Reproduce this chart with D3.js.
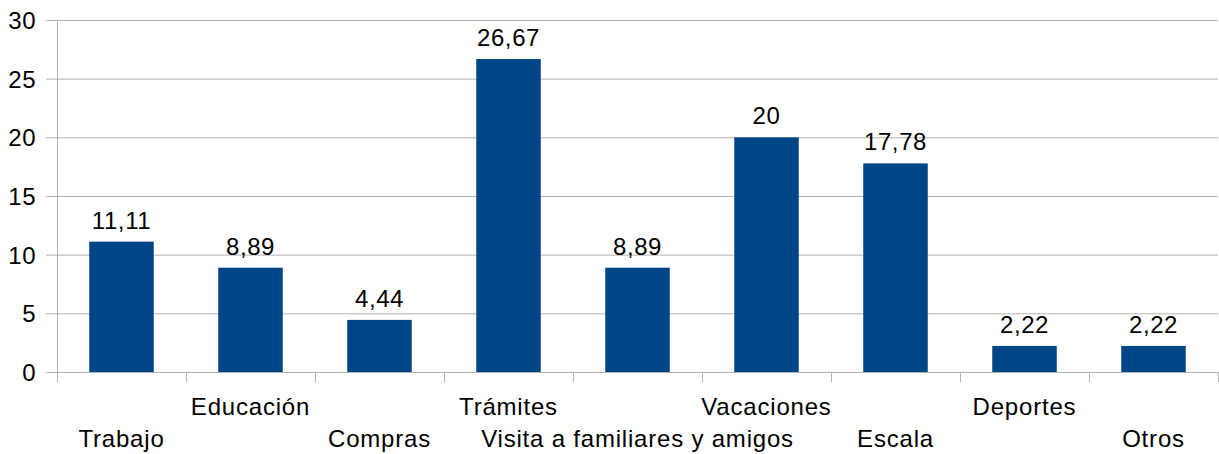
<!DOCTYPE html>
<html>
<head>
<meta charset="utf-8">
<script src="https://cdn.jsdelivr.net/npm/d3@7"></script>
<style>
  body { margin: 0; background: #fff; }
  text { font-family: "Liberation Sans", Arial, sans-serif; fill: #000; }
</style>
</head>
<body>
<svg id="chart" width="1219" height="454"></svg>
<script>
// data
const categories = ["Trabajo", "Educación", "Compras", "Trámites", "Visita a familiares y amigos",
  "Vacaciones", "Escala", "Deportes", "Otros"];
const values = [11.11, 8.89, 4.44, 26.67, 8.89, 20, 17.78, 2.22, 2.22];
const yTicks = [0, 5, 10, 15, 20, 25, 30];

const width = 1219, height = 454;
const margin = { top: 20, right: 1, bottom: 82, left: 57 };
const svg = d3.select("#chart");

const x = d3.scaleBand()
  .domain(categories)
  .range([margin.left, width - margin.right])
  .paddingInner(0.5)
  .paddingOuter(0.25);

const y = d3.scaleLinear()
  .domain([0, 30])
  .range([height - margin.bottom, margin.top]);

// gridlines
svg.append("g").selectAll("line")
  .data(yTicks)
  .join("line")
  .attr("x1", margin.left - 11)
  .attr("x2", width - margin.right)
  .attr("y1", d => y(d) + 0.5)
  .attr("y2", d => y(d) + 0.5)
  .attr("stroke", "#b3b3b3")
  .attr("stroke-width", 1);

// y labels
svg.append("g").selectAll("text")
  .data(yTicks)
  .join("text")
  .attr("x", margin.left - 21)
  .attr("y", d => y(d) + 9)
  .attr("text-anchor", "end")
  .attr("font-size", 24)
  .attr("letter-spacing", 0.5)
  .text(d => d);

// y axis line
svg.append("line")
  .attr("x1", margin.left + 0.5).attr("x2", margin.left + 0.5)
  .attr("y1", margin.top).attr("y2", y(0) + 10)
  .attr("stroke", "#b3b3b3");

// category ticks
const step = x.step();
const tickPos = d3.range(categories.length + 1).map(i => margin.left + i * step);
svg.append("g").selectAll("line")
  .data(tickPos.slice(1))
  .join("line")
  .attr("x1", d => Math.round(d) + 0.5).attr("x2", d => Math.round(d) + 0.5)
  .attr("y1", y(0)).attr("y2", y(0) + 10)
  .attr("stroke", "#b3b3b3");

// bars
svg.append("g").selectAll("rect")
  .data(values)
  .join("rect")
  .attr("x", (d, i) => x(categories[i]))
  .attr("width", x.bandwidth())
  .attr("y", d => y(d))
  .attr("height", d => y(0) - y(d))
  .attr("fill", "#004586");

// value labels
const fmt = d => d3.format(",.2~f")(d).replace(".", ",");
svg.append("g").selectAll("text")
  .data(values)
  .join("text")
  .attr("x", (d, i) => x(categories[i]) + x.bandwidth() / 2)
  .attr("y", d => y(d) - 13)
  .attr("text-anchor", "middle")
  .attr("font-size", 24)
  .attr("letter-spacing", 0.6)
  .text(fmt);

// category labels, staggered
svg.append("g").selectAll("text")
  .data(categories)
  .join("text")
  .attr("x", d => x(d) + x.bandwidth() / 2)
  .attr("y", (d, i) => i % 2 === 0 ? 447 : 415)
  .attr("text-anchor", "middle")
  .attr("font-size", 24)
  .attr("letter-spacing", 0.8)
  .text(d => d);
</script>
</body>
</html>
